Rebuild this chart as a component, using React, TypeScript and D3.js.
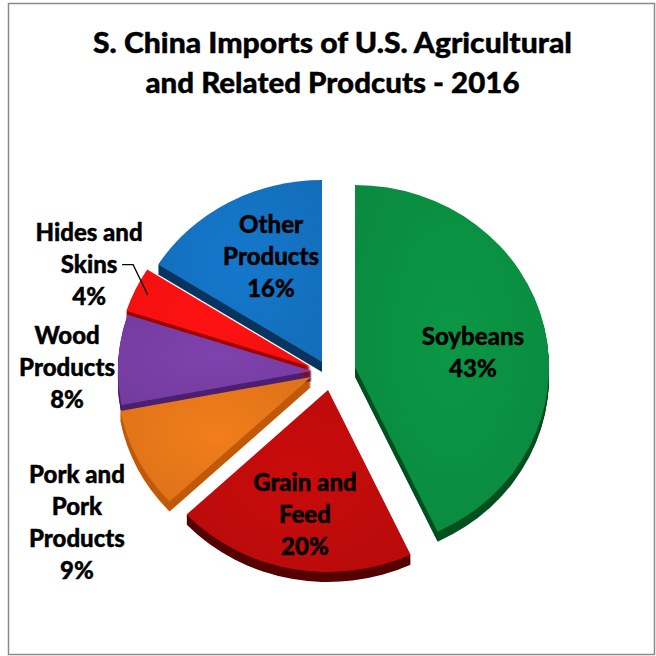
import React from "react";
import * as d3 from "d3";

const categories = ["Soybeans", "Grain and Feed", "Pork and Pork Products", "Wood Products", "Hides and Skins", "Other Products"];
const values = [43, 20, 9, 8, 4, 16];
const labelLines = [["Soybeans"], ["Grain and", "Feed"], ["Pork and", "Pork", "Products"], ["Wood", "Products"], ["Hides and", "Skins"], ["Other", "Products"]];
const colors = ["#0a9142", "#c20b0b", "#e8781a", "#7a3fa7", "#fe1111", "#1473c3"];
const sideColors = ["#04501f", "#560000", "#c25a08", "#4d1f72", "#a00000", "#0a3560"];
const titleLines = ["S. China Imports of U.S. Agricultural", "and Related Prodcuts - 2016"];

// layout (not data)
const W = 656, H = 656;
const CX = 314, CY = 366, RX = 194, RY = 182, DEPTH = 10;
const explode: [number, number][] = [[41, 1], [14, 24], [-3, 11], [-2, 5], [-3, 1], [8, -4]];
const labelFactor: [number, number][] = [[0.623, 0.365], [0.634, 0.7], [1.354, 1.773], [1.265, 0.26], [1.264, 1.32], [0.545, 0.659]];
const titleWidths = [479, 374];
const FONT = "Lato, 'Open Sans', 'DejaVu Sans', sans-serif";

export default function App() {
  const pie = d3.pie<number>().sort(null).value((d) => d)(values);
  const arc = d3.arc<d3.PieArcDatum<number>>().innerRadius(0).outerRadius(RX);
  const sy = RY / RX;
  const lineH = 32;

  const sides = pie.map((p, i) => {
    const [dx, dy] = explode[i];
    const d = arc(p) || "";
    const layers = d3.range(DEPTH, 0, -1).map((k) => (
      <path key={k} d={d} fill={sideColors[i]} transform={`translate(${CX + dx},${CY + dy + k}) scale(1,${sy})`} />
    ));
    return <g key={"s" + i}>{layers}</g>;
  });

  const tops = pie.map((p, i) => {
    const [dx, dy] = explode[i];
    return (
      <path key={"t" + i} d={arc(p) || ""} fill={`url(#grad${i})`} transform={`translate(${CX + dx},${CY + dy}) scale(1,${sy})`} />
    );
  });

  const labels = pie.map((p, i) => {
    const [dx, dy] = explode[i];
    const mid = (p.startAngle + p.endAngle) / 2;
    const [fx, fy] = labelFactor[i];
    const x = CX + dx + Math.sin(mid) * RX * fx;
    const y = CY + dy - Math.cos(mid) * RY * fy;
    const lines = [...labelLines[i], `${values[i]}%`];
    const first = y + 8 - ((lines.length - 1) * lineH) / 2;
    return (
      <text key={"l" + i} x={x} y={first} textAnchor="middle" fontFamily={FONT} fontWeight={900} fontSize={24} fill="#000" stroke="#000" strokeWidth={0.4}>
        {lines.map((ln, j) => (
          <tspan key={j} x={x} y={first + j * lineH}>{ln}</tspan>
        ))}
      </text>
    );
  });

  // leader line for Hides and Skins
  const hi = 4;
  const hp = pie[hi];
  const hmid = (hp.startAngle + hp.endAngle) / 2;
  const ex = CX + explode[hi][0] + Math.sin(hmid) * RX * 0.93;
  const ey = CY + explode[hi][1] - Math.cos(hmid) * RY * 0.93;
  const lx = CX + explode[hi][0] + Math.sin(hmid) * RX * labelFactor[hi][0] + 33;
  const ly = CY + explode[hi][1] - Math.cos(hmid) * RY * labelFactor[hi][1];

  return (
    <svg width={W} height={H} style={{ position: "absolute", left: 0, top: 0 }}>
      <defs>
        {colors.map((c, i) => (
          <radialGradient key={i} id={`grad${i}`} cx="0.5" cy="0.45" r="0.6">
            <stop offset="0" stopColor={d3.color(c)!.brighter(0.12).formatHex()} />
            <stop offset="1" stopColor={d3.color(c)!.darker(0.12).formatHex()} />
          </radialGradient>
        ))}
      </defs>
      <rect x={0} y={0} width={W} height={H} fill="#fff" />
      <rect x={8.5} y={3.5} width={646} height={651} fill="#fff" stroke="#8a8a8a" strokeWidth={1.5} />
      {titleLines.map((t, i) => (
        <text key={i} x={332.5} y={53 + i * 40} textAnchor="middle" fontFamily={FONT} fontWeight={900} fontSize={28}
          fill="#000" stroke="#000" strokeWidth={0.4} textLength={titleWidths[i]} lengthAdjust="spacingAndGlyphs">
          {t}
        </text>
      ))}
      <g>{sides}</g>
      <g>{tops}</g>
      {labels}
      <path d={`M${lx},${ly} H${lx + 11} L${ex},${ey}`} fill="none" stroke="#000" strokeWidth={1.3} />
    </svg>
  );
}
